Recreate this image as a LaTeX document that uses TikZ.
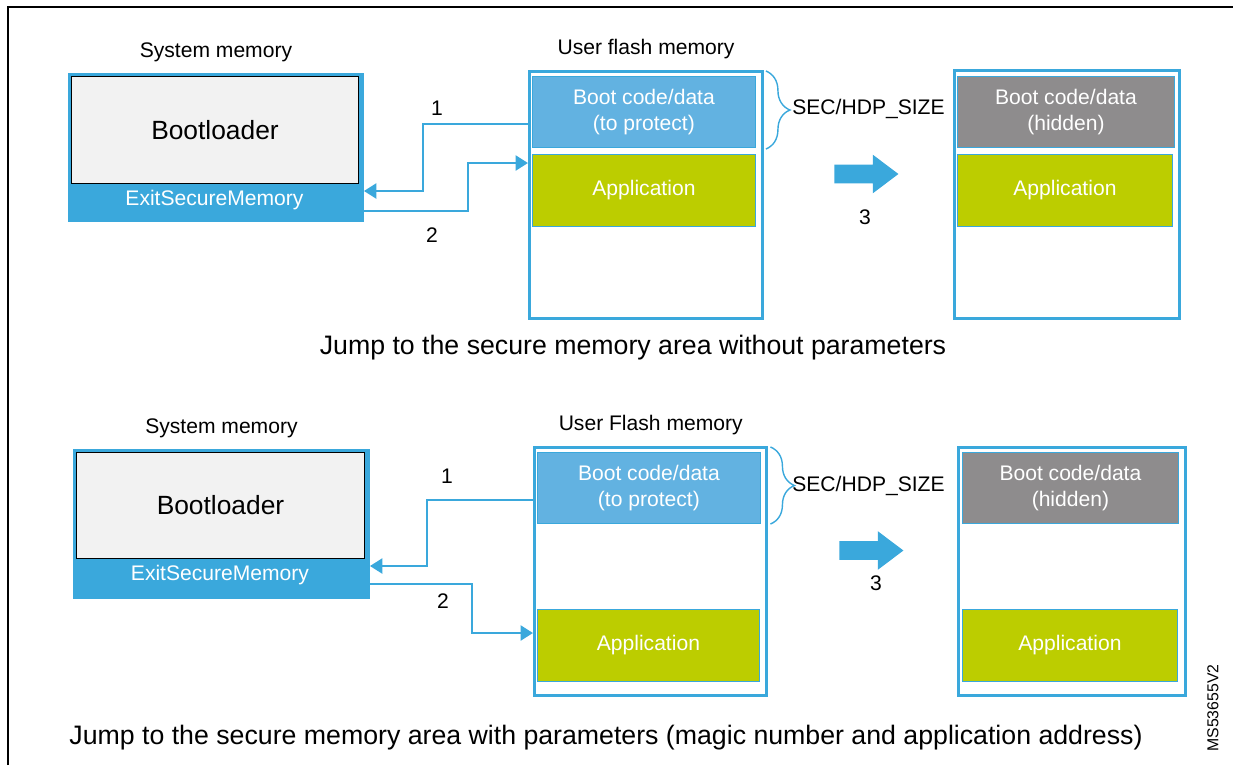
\documentclass[tikz,border=0pt]{standalone}
\usepackage{fontspec}
\setmainfont{Liberation Sans}
\usetikzlibrary{arrows.meta}
\usetikzlibrary{positioning}
\usetikzlibrary{calc}
\usetikzlibrary{shapes.arrows}
\usetikzlibrary{decorations.pathreplacing}
\definecolor{stblue}{HTML}{3AA8DC}
\definecolor{bootblue}{HTML}{62B2E1}
\definecolor{appgreen}{HTML}{BCCD00}
\definecolor{hidgray}{HTML}{8E8C8D}
\definecolor{blgray}{HTML}{F2F2F2}
\tikzset{
	memframe/.style={draw=stblue, line width=1.7pt, fill=white, inner sep=0pt, anchor=north west},
	sysframe/.style={memframe, fill=stblue},
	blbox/.style={draw=black, line width=0.6pt, fill=blgray, inner sep=0pt, anchor=north west, font=\fontsize{15}{18}\selectfont},
	blk/.style={draw=stblue, line width=0.5pt, inner sep=0pt, anchor=north west, text=white, align=center, font=\fontsize{12}{15}\selectfont},
	bootblk/.style={blk, fill=bootblue},
	appblk/.style={blk, fill=appgreen},
	hidblk/.style={blk, fill=hidgray},
	lbl/.style={inner sep=0pt, font=\fontsize{12}{14}\selectfont},
	caption/.style={font=\fontsize{15.2}{18}\selectfont},
	link/.style={draw=stblue, line width=1.5pt, -{Triangle[length=0.25cm,width=0.3cm]}},
	sizebrace/.style={draw=stblue, line width=0.8pt, decorate, decoration={brace, amplitude=0.48cm}},
	bigarrow/.style={single arrow, fill=stblue, draw=none, inner xsep=0pt, inner ysep=0.18cm, single arrow head extend=0.2cm, single arrow tip angle=74, minimum height=1.28cm, anchor=tip},
}

\begin{document}
\begin{tikzpicture}[x=0.02cm, y=-0.02cm]
		\useasboundingbox (0,0) rectangle (1233,765);
		\draw[line width=1.2pt] (8,765) -- (8,7) -- (1233,7);
		
		%coordinates
		\coordinate (LLsysA)  at (68,73);
		\coordinate (LLflA)   at (528,70);
		\coordinate (LLhidA)  at (953,69);
		\coordinate (LLsysB)  at (73,449);
		\coordinate (LLflB)   at (533,446);
		\coordinate (LLhidB)  at (957,446);
		
		%nodes, without parameters
		\node[sysframe, minimum width=5.86cm, minimum height=2.92cm] (sysA) at (LLsysA) {};
		\node[blbox, minimum width=5.74cm, minimum height=2.14cm] (blA) at (71,76) {Bootloader};
		\node[lbl, text=white] (exitA) at (214.5,200) {ExitSecureMemory};
		\node[lbl, above=0.22cm of sysA] (sysTA) {System memory};
		
		\node[memframe, minimum width=4.66cm, minimum height=4.94cm] (flashA) at (LLflA) {};
		\node[bootblk, minimum width=4.46cm, minimum height=1.42cm] (protA) at (532,76) {Boot code/data\\(to protect)};
		\node[appblk, minimum width=4.46cm, minimum height=1.44cm] (appA) at (532,154) {Application};
		\node[lbl, above=0.22cm of flashA] (flTA) {User flash memory};
		
		\node[memframe, minimum width=4.51cm, minimum height=4.96cm] (hidA) at (LLhidA) {};
		\node[hidblk, minimum width=4.34cm, minimum height=1.42cm] (hgA) at (957,76) {Boot code/data\\(hidden)};
		\node[appblk, minimum width=4.30cm, minimum height=1.44cm] (happA) at (957,154) {Application};
		
		\draw[sizebrace] ($(flashA.north east)+(2,1)$) -- ($(flashA.north east)+(2,79)$) coordinate (brA);
		\node[lbl, anchor=west] (sizeA) at (792,109) {SEC/HDP\_SIZE};
		\node[bigarrow] (arrA) at (899,174) {};
		\node[lbl] (threeA) at (865,217) {3};
		
		\draw[link] (flashA.west |- 0,124) -| (423,191) -- (sysA.east |- 0,191);
		\draw[link] (sysA.east |- 0,211) -| (468,163) -- (flashA.west |- 0,163);
		\node[lbl] (oneA) at (437,108) {1};
		\node[lbl] (twoA) at (432,235) {2};
		
		\node[caption] (capA) at (633,348) {Jump to the secure memory area without parameters};
		
		%nodes, with parameters
		\node[sysframe, minimum width=5.88cm, minimum height=2.94cm] (sysB) at (LLsysB) {};
		\node[blbox, minimum width=5.76cm, minimum height=2.12cm] (blB) at (76,452) {Bootloader};
		\node[lbl, text=white] (exitB) at (220,575) {ExitSecureMemory};
		\node[lbl, above=0.22cm of sysB] (sysTB) {System memory};
		
		\node[memframe, minimum width=4.65cm, minimum height=4.96cm] (flashB) at (LLflB) {};
		\node[bootblk, minimum width=4.46cm, minimum height=1.42cm] (protB) at (537,452) {Boot code/data\\(to protect)};
		\node[appblk, minimum width=4.44cm, minimum height=1.44cm] (appB) at (537,609) {Application};
		\node[lbl, above=0.22cm of flashB] (flTB) {User Flash memory};
		
		\node[memframe, minimum width=4.54cm, minimum height=4.96cm] (hidB) at (LLhidB) {};
		\node[hidblk, minimum width=4.32cm, minimum height=1.42cm] (hgB) at (962,452) {Boot code/data\\(hidden)};
		\node[appblk, minimum width=4.30cm, minimum height=1.44cm] (happB) at (962,609) {Application};
		
		\draw[sizebrace] ($(flashB.north east)+(2,1)$) -- ($(flashB.north east)+(2,78)$) coordinate (brB);
		\node[lbl, anchor=west] (sizeB) at (792,486) {SEC/HDP\_SIZE};
		\node[bigarrow] (arrB) at (904,550.5) {};
		\node[lbl] (threeB) at (876,583) {3};
		
		\draw[link] (flashB.west |- 0,500) -| (427,566) -- (sysB.east |- 0,566);
		\draw[link] (sysB.east |- 0,584) -| (472,633) -- (flashB.west |- 0,633);
		\node[lbl] (oneB) at (447,476) {1};
		\node[lbl] (twoB) at (443,601) {2};
		
		\node[caption] (capB) at (606,738) {Jump to the secure memory area with parameters (magic number and application address)};
		\node[rotate=90, font=\fontsize{9}{10}\selectfont] (refno) at (1213,708) {MS53655V2};
		\end{tikzpicture}
\end{document}
